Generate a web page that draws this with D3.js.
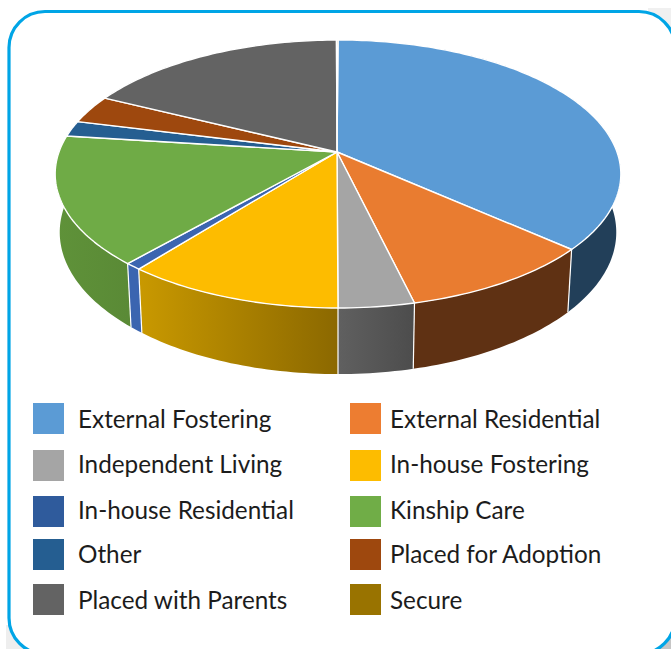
<!DOCTYPE html>
<html>
<head>
<meta charset="utf-8">
<script src="https://cdn.jsdelivr.net/npm/d3@7"></script>
<style>
  html, body { margin: 0; padding: 0; background: #fff; overflow: hidden; }
  svg { display: block; }
  .legend-label { font-family: Lato, sans-serif; font-size: 24.3px; fill: #1c1c1c; }
</style>
</head>
<body>
<svg id="chart" width="671" height="649"></svg>
<script>
var categories = ["External Fostering", "External Residential", "Independent Living", "In-house Fostering",
    "In-house Residential", "Kinship Care", "Other", "Placed for Adoption", "Placed with Parents", "Secure"];
var shares = [36.6, 9.7, 3.7, 10.7, 0.8, 15.5, 1.9, 3.4, 17.6, 0.1];
var topColours = ["#5b9bd5", "#e97c30", "#a5a5a5", "#fdbc00", "#3b65b0", "#6fab46", "#255e91", "#9e480e", "#636363", "#997300"];
var legendColours = ["#5b9bd5", "#ed7d31", "#a5a5a5", "#fdbc00", "#2f5b9c", "#70ad47", "#255e91", "#9e480e", "#636363", "#997300"];
var wallLeft = ["#223f59", "#5f3113", "#606060", "#c99900", "#3b65b0", "#5f9239", "#1c4870", "#6b3009", "#444444", "#6b5000"];
var wallRight = ["#223f59", "#5f3113", "#4c4c4c", "#8b6800", "#3b65b0", "#5a8a36", "#1c4870", "#6b3009", "#444444", "#6b5000"];

var svg = d3.select("#chart");

// the page behind the frame shows a little shadow in the corners
svg.append("rect").attr("x", 648).attr("y", 622).attr("width", 23).attr("height", 27).attr("fill", "#c6c6c6");
svg.append("rect").attr("x", 648).attr("y", 8).attr("width", 23).attr("height", 30).attr("fill", "#f0f0f0");
svg.append("rect").attr("x", 6).attr("y", 625).attr("width", 24).attr("height", 24).attr("fill", "#eeeeee");

// frame runs off the right and bottom of the picture
svg.append("rect")
    .attr("x", 9).attr("y", 11.5)
    .attr("width", 666).attr("height", 642.5)
    .attr("rx", 36).attr("ry", 36)
    .attr("fill", "#fff")
    .attr("stroke", "#00a5e6")
    .attr("stroke-width", 3.2);

var pie = d3.pie().sort(null).value(d => d)(shares);

// tilted disc: a circle seen in perspective, so the hub sits above the middle of the ellipse
var cx = 338;
var k = 0.164;
var topFace = {cy: 152, a: 279, b: 130.4};
var bottomFace = {cy: 209, a: 274.5, b: 138};

function project(face, angle) {
    var u = Math.sin(angle), v = -Math.cos(angle);
    var w = 1 - k * v;
    return [cx + face.a * u / w, face.cy + face.b * v / w];
}

function arcPoints(face, d) {
    var steps = Math.max(2, Math.ceil((d.endAngle - d.startAngle) / 0.02));
    return d3.range(steps + 1).map(i => project(face, d.startAngle + (d.endAngle - d.startAngle) * i / steps));
}

var line = d3.line();

var defs = svg.append("defs");
defs.selectAll("linearGradient").data(pie).enter().append("linearGradient")
    .attr("id", (d, i) => `wall${i}`)
    .attr("gradientUnits", "userSpaceOnUse")
    .attr("x1", d => d3.min(arcPoints(topFace, d), p => p[0]))
    .attr("x2", d => d3.max(arcPoints(topFace, d), p => p[0]) + 1)
    .attr("y1", 0).attr("y2", 0)
    .call(g => {
        g.append("stop").attr("offset", 0).attr("stop-color", (d, i) => wallLeft[i]);
        g.append("stop").attr("offset", 1).attr("stop-color", (d, i) => wallRight[i]);
    });

svg.append("g").selectAll("path").data(pie).enter().append("path")
    .attr("d", d => line(arcPoints(topFace, d).concat(arcPoints(bottomFace, d).reverse())) + "Z")
    .attr("fill", (d, i) => `url(#wall${i})`);

// white seams between the walls, outer edge left unstroked
svg.append("g").selectAll("path").data(pie).enter().append("path")
    .attr("d", d => line([project(topFace, d.startAngle), project(bottomFace, d.startAngle)]))
    .attr("stroke", "#fff")
    .attr("stroke-width", 1.2)
    .attr("fill", "none");

svg.append("g").selectAll("path").data(pie).enter().append("path")
    .attr("d", d => line([[cx - 1, topFace.cy]].concat(arcPoints(topFace, d))) + "Z")
    .attr("fill", (d, i) => topColours[i])
    .attr("stroke", "#fff")
    .attr("stroke-width", 1.4)
    .attr("stroke-linejoin", "round");

// legend, two columns filled row by row
var legendX = d3.scalePoint().domain([0, 1]).range([33, 350]);
var legendY = d3.scaleOrdinal().domain([0, 1, 2, 3, 4]).range([403, 450, 496, 539, 584]);
var labelX = d3.scalePoint().domain([0, 1]).range([78, 390]);
var labelY = d3.scaleOrdinal().domain([0, 1, 2, 3, 4]).range([428, 473, 519, 563, 609]);

var legend = svg.append("g");

legend.selectAll("rect").data(categories).enter().append("rect")
    .attr("x", (d, i) => legendX(i % 2))
    .attr("y", (d, i) => legendY(Math.floor(i / 2)))
    .attr("width", 31).attr("height", 31)
    .attr("fill", (d, i) => legendColours[i]);

legend.selectAll("text").data(categories).enter().append("text")
    .attr("class", "legend-label")
    .attr("x", (d, i) => labelX(i % 2))
    .attr("y", (d, i) => labelY(Math.floor(i / 2)))
    .text(d => d);
</script>
</body>
</html>
